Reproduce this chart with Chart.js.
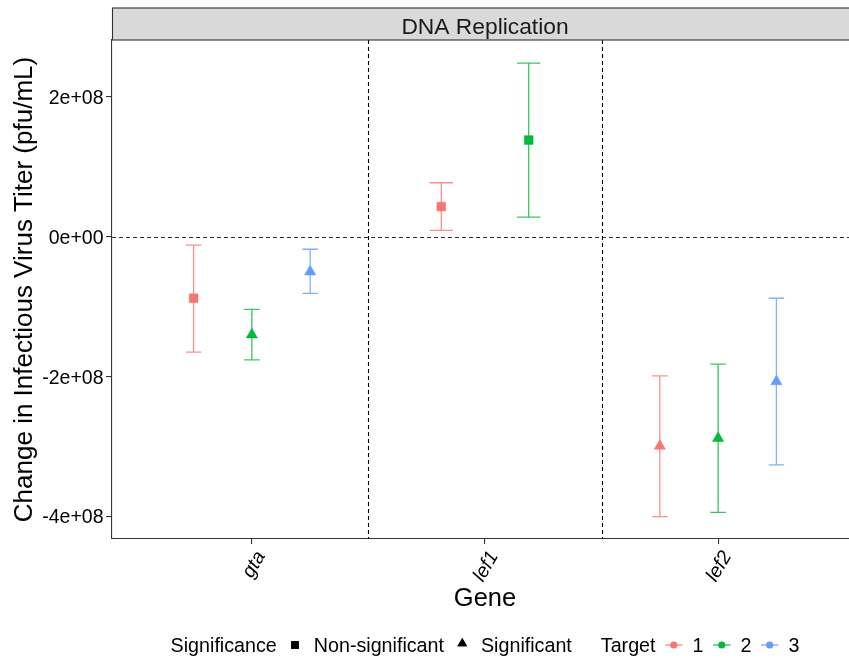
<!DOCTYPE html>
<html>
<head>
<meta charset="utf-8">
<script src="https://cdn.jsdelivr.net/npm/chart.js@4/dist/chart.umd.min.js"></script>
<style>
  html, body { margin: 0; padding: 0; background: #ffffff; overflow: hidden; }
  canvas { display: block; }
</style>
</head>
<body>
<!-- the panel runs a few pixels past the right edge of the window -->
<canvas id="chart" width="858" height="660"></canvas>
<script>
// ---- data ----
const genes = ['gta', 'lef1', 'lef2'];
const targetNames = ['1', '2', '3'];

const target1Mean = [-8.8e7, 4.3e7, -2.99e8];
const target1Low  = [-1.65e8, 0.9e7, -4.0e8];
const target1High = [-1.2e7, 7.7e7, -1.99e8];
const target1Sig  = ['Non-significant', 'Non-significant', 'Significant'];

const target2Mean = [-1.40e8, 1.38e8, -2.88e8];
const target2Low  = [-1.76e8, 2.8e7, -3.94e8];
const target2High = [-1.04e8, 2.48e8, -1.82e8];
const target2Sig  = ['Significant', 'Non-significant', 'Significant'];

const target3Mean = [-5.0e7, null, -2.07e8];
const target3Low  = [-8.1e7, null, -3.26e8];
const target3High = [-1.8e7, null, -8.8e7];
const target3Sig  = ['Significant', null, 'Significant'];

const yTickValues = [-4e8, -2e8, 0, 2e8];
const yTickLabels = ['-4e+08', '-2e+08', '0e+00', '2e+08'];

const facetTitle = 'DNA Replication';
const xTitle = 'Gene';
const yTitle = 'Change in Infectious Virus Titer (pfu/mL)';
const shapeTitle = 'Significance';
const shapeLevels = ['Non-significant', 'Significant'];
const colourTitle = 'Target';

// ---- styling ----
const FONT = "'Liberation Sans', Arial, Helvetica, sans-serif";
const palette = ['#F8766D', '#00BA38', '#619CFF'];
const paletteSoft = ['rgba(248,118,109,0.8)', 'rgba(0,186,56,0.8)', 'rgba(97,156,255,0.8)'];
const DODGE = 0.75;      // total dodge width in category units
const ERR_WIDTH = 0.2;   // error bar cap width before dodging

const series = [
  { name: targetNames[0], mean: target1Mean, low: target1Low, high: target1High, sig: target1Sig },
  { name: targetNames[1], mean: target2Mean, low: target2Low, high: target2High, sig: target2Sig },
  { name: targetNames[2], mean: target3Mean, low: target3Low, high: target3High, sig: target3Sig }
];

// horizontal position of series k within gene i (ggplot-style dodge)
function dodge(i, k) {
  const present = [];
  series.forEach((s, j) => { if (s.mean[i] !== null) present.push(j); });
  const n = present.length;
  const j = present.indexOf(k);
  return { off: DODGE * ((j + 0.5) / n - 0.5), n: n };
}

const datasets = series.map((s, k) => ({
  label: s.name,
  data: genes.map((g, i) => s.mean[i] === null ? null :
    { x: i + 1 + dodge(i, k).off, y: s.mean[i], sig: s.sig[i] }).filter(p => p !== null),
  backgroundColor: palette[k],
  borderColor: palette[k],
  borderWidth: 0.5,
  pointStyle: ctx => ctx.raw && ctx.raw.sig === 'Significant' ? 'triangle' : 'rect',
  pointRadius: ctx => ctx.raw && ctx.raw.sig === 'Significant' ? 6.5 : 6.2,
  pointHoverRadius: ctx => ctx.raw && ctx.raw.sig === 'Significant' ? 6.5 : 6.2
}));

// dashed reference lines: zero line and separators between genes
const refLines = {
  id: 'refLines',
  beforeDatasetsDraw(chart) {
    const { ctx, chartArea: a, scales: { x, y } } = chart;
    ctx.save();
    ctx.lineWidth = 1.1;
    ctx.setLineDash([4, 3]);
    ctx.strokeStyle = '#333333';
    const y0 = Math.round(y.getPixelForValue(0)) + 0.5;
    ctx.beginPath(); ctx.moveTo(a.left, y0); ctx.lineTo(a.right, y0); ctx.stroke();
    ctx.strokeStyle = '#000000';
    for (let i = 0; i < genes.length - 1; i++) {
      const px = Math.round(x.getPixelForValue(i + 1.5)) + 0.5;
      ctx.beginPath(); ctx.moveTo(px, a.top); ctx.lineTo(px, a.bottom); ctx.stroke();
    }
    ctx.restore();
  }
};

// error bars from the low/high arrays
const errorBars = {
  id: 'errorBars',
  beforeDatasetsDraw(chart) {
    const { ctx, scales: { x, y } } = chart;
    ctx.save();
    ctx.lineWidth = 1.3;
    series.forEach((s, k) => {
      genes.forEach((g, i) => {
        if (s.mean[i] === null) return;
        const d = dodge(i, k);
        const px = x.getPixelForValue(i + 1 + d.off);
        const half = (x.getPixelForValue(ERR_WIDTH / d.n) - x.getPixelForValue(0)) / 2;
        const yl = y.getPixelForValue(s.low[i]);
        const yh = y.getPixelForValue(s.high[i]);
        ctx.strokeStyle = paletteSoft[k];
        ctx.beginPath();
        ctx.moveTo(px, yl); ctx.lineTo(px, yh);
        ctx.moveTo(px - half, yl); ctx.lineTo(px + half, yl);
        ctx.moveTo(px - half, yh); ctx.lineTo(px + half, yh);
        ctx.stroke();
      });
    });
    ctx.restore();
  }
};

// facet strip and bottom legend
const decorations = {
  id: 'decorations',
  afterDraw(chart) {
    const { ctx, chartArea: a } = chart;
    ctx.save();
    // strip
    ctx.fillStyle = '#D9D9D9';
    ctx.fillRect(a.left, 8, a.right - a.left, a.top - 8);
    ctx.strokeStyle = '#333333';
    ctx.lineWidth = 1.1;
    ctx.strokeRect(a.left + 0.5, 8, a.right - a.left, a.top - 8);
    ctx.fillStyle = '#1A1A1A';
    ctx.font = '22.8px ' + FONT;
    ctx.textAlign = 'center';
    ctx.textBaseline = 'alphabetic';
    ctx.fillText(facetTitle, (a.left + a.right) / 2, 34);

    // legend
    ctx.font = '19.7px ' + FONT;
    ctx.textAlign = 'left';
    const keyW = 17.5, gapIn = 9.5, gapOut = 10, groupGap = 29;
    const items = [];
    items.push({ t: 'text', s: shapeTitle });
    shapeLevels.forEach(l => {
      items.push({ t: 'gap', w: gapIn });
      items.push({ t: 'shape', s: l });
      items.push({ t: 'gap', w: gapOut });
      items.push({ t: 'text', s: l });
    });
    items.push({ t: 'gap', w: groupGap });
    items.push({ t: 'text', s: colourTitle });
    targetNames.forEach((n, k) => {
      items.push({ t: 'gap', w: gapIn });
      items.push({ t: 'colour', k: k });
      items.push({ t: 'gap', w: gapOut });
      items.push({ t: 'text', s: n });
    });
    const widthOf = it => it.t === 'text' ? ctx.measureText(it.s).width : (it.t === 'gap' ? it.w : keyW);
    const total = items.reduce((acc, it) => acc + widthOf(it), 0);
    let cx = (a.left + a.right) / 2 - total / 2;
    const keyY = 645, baseY = 651.5;
    items.forEach(it => {
      const w = widthOf(it);
      if (it.t === 'text') {
        ctx.fillStyle = '#000000';
        ctx.fillText(it.s, cx, baseY);
      } else if (it.t === 'shape') {
        const tri = it.s === 'Significant';
        Chart.helpers.drawPoint(ctx, {
          pointStyle: tri ? 'triangle' : 'rect',
          radius: tri ? 5.6 : 5.4,
          borderWidth: 0
        }, cx + w / 2, tri ? keyY - 1.5 : keyY);
        ctx.fillStyle = '#000000';
        ctx.fill();
      } else if (it.t === 'colour') {
        ctx.strokeStyle = paletteSoft[it.k];
        ctx.lineWidth = 1.4;
        ctx.beginPath(); ctx.moveTo(cx, keyY); ctx.lineTo(cx + w, keyY); ctx.stroke();
        ctx.fillStyle = palette[it.k];
        ctx.beginPath(); ctx.arc(cx + w / 2, keyY, 3.6, 0, Math.PI * 2); ctx.fill();
      }
      cx += w;
    });
    ctx.restore();
  }
};

Chart.defaults.font.family = FONT;

new Chart(document.getElementById('chart'), {
  type: 'scatter',
  data: { datasets: datasets },
  plugins: [refLines, errorBars, decorations],
  options: {
    responsive: false,
    devicePixelRatio: 1,
    animation: false,
    events: [],
    layout: { autoPadding: false, padding: { left: 0, top: 40, right: 0, bottom: 0 } },
    plugins: { legend: { display: false }, tooltip: { enabled: false } },
    scales: {
      x: {
        type: 'linear',
        min: 0.4,
        max: 3.6,
        afterBuildTicks: s => { s.ticks = genes.map((g, i) => ({ value: i + 1 })); },
        afterFit: s => { s.height = 121; },
        ticks: {
          callback: v => genes[v - 1],
          autoSkip: false,
          minRotation: 60,
          maxRotation: 60,
          padding: 3,
          labelOffset: 9,
          color: '#000000',
          font: { size: 19.5, style: 'italic', family: FONT }
        },
        grid: { drawOnChartArea: false, drawTicks: true, tickLength: 5, color: '#333333', lineWidth: 1.1 },
        border: { display: true, color: '#333333', width: 1.1 },
        title: {
          display: true, text: xTitle, color: '#000000',
          font: { size: 25.5, family: FONT, lineHeight: 1.2 },
          padding: { top: 0, bottom: 45.7 }
        }
      },
      y: {
        type: 'linear',
        min: -4.32e8,
        max: 2.81e8,
        afterBuildTicks: s => { s.ticks = yTickValues.map(v => ({ value: v })); },
        afterFit: s => { s.width = 112; },
        ticks: {
          callback: v => yTickLabels[yTickValues.indexOf(v)],
          padding: 2.5,
          labelOffset: 1.5,
          color: '#000000',
          font: { size: 19.5, family: FONT }
        },
        grid: { drawOnChartArea: false, drawTicks: true, tickLength: 6, color: '#333333', lineWidth: 1.1 },
        border: { display: true, color: '#333333', width: 1.1 },
        title: {
          display: true, text: yTitle, color: '#000000',
          font: { size: 26, family: FONT, lineHeight: 1.2 },
          padding: { top: 9, bottom: 0 }
        }
      }
    }
  }
});
</script>
</body>
</html>
